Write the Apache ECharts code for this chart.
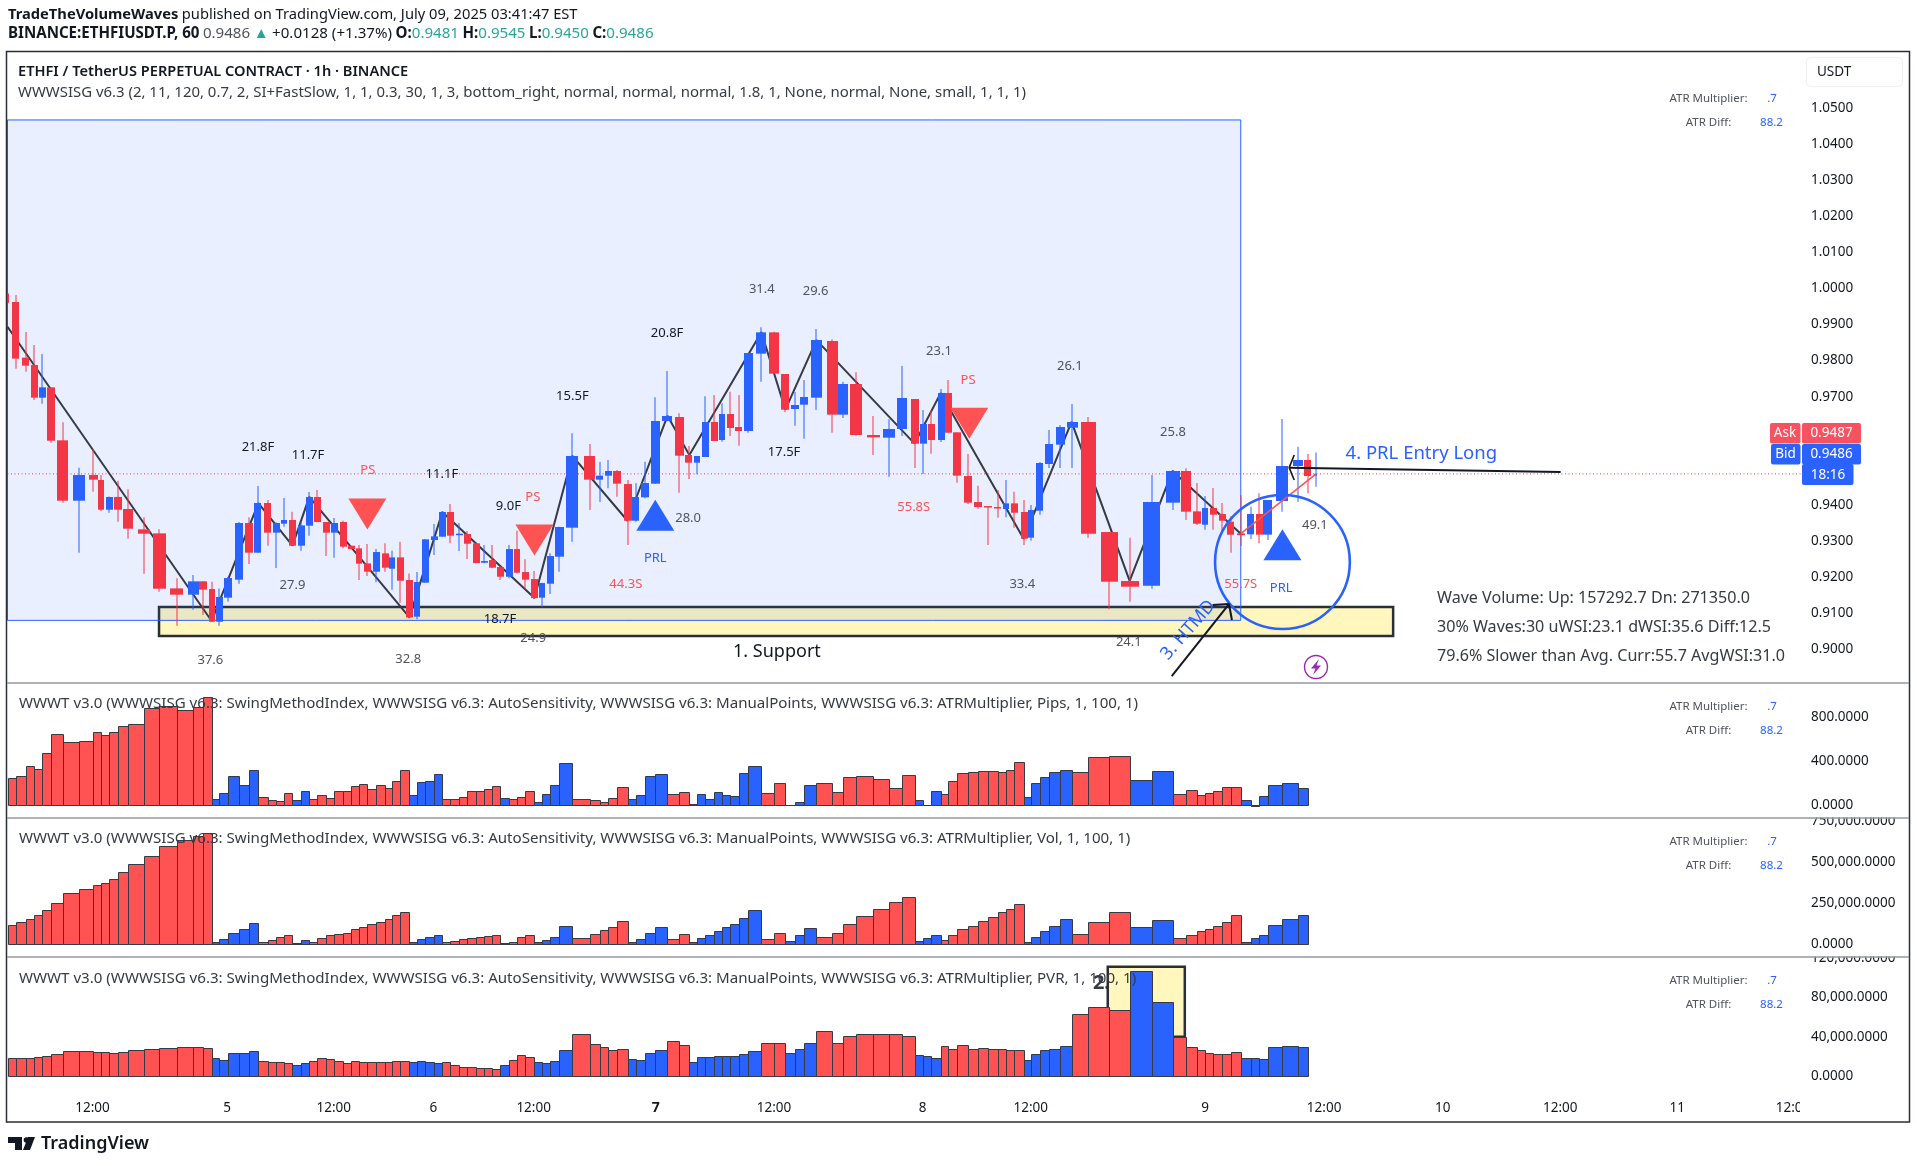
<!DOCTYPE html>
<html><head><meta charset="utf-8"><style>html,body{margin:0;background:#fff}#c{width:1917px;height:1166px}</style>
<script src="https://cdn.jsdelivr.net/npm/echarts@6/dist/echarts.min.js"></script></head>
<body><div id="c"></div><script>
const candleTime=[18,38,62,82,101,122,151,189,222,241,260,281,305,343,379,420,458,483,503,521,543,567,592,614,636,657,676,695,715,735,754,775,794,814,835,853,873,893,914,932,951,973,991,1011,1031,1051,1070,1091,1110,1130,1150,1170,1189,1210,1229,1248,1270,1288,1307,1328,1360,1401,1426,1445,1466,1491,1511,1533,1557,1586,1614,1638,1656,1676,1697,1716,1735,1757,1778,1809,1840,1866,1890,1911,1940,1976,2004,2035,2075,2112,2144,2173,2194,2213,2235,2253,2275,2301,2324,2348,2372,2391,2410,2432,2450,2470,2493,2519,2546,2584,2634,2684,2738,2786,2819,2845,2864,2883,2904,2924,2948,2973,2992,3013,3047,3083,3107,3127];
// open, close, low, high
const ohlc=[[.9984,.9961,.9959,.9988],[.99627,.98055,.97778,.99821],[.98083,.97861,.97694,.98795],[.97879,.96973,.96908,.98434],[.96973,.9726,.96807,.98184],[.9726,.9578,.95725,.9726],[.9579,.94116,.94061,.96289],[.94116,.94828,.92674,.95032],[.9483,.94699,.94366,.95549],[.9469,.93866,.9382,.9483],[.93866,.94218,.93783,.9423],[.9422,.93866,.93534,.94671],[.93885,.9334,.93062,.94431],[.93321,.93201,.92091,.93654],[.9321,.91675,.91592,.93321],[.91684,.91509,.90649,.91962],[.91509,.91879,.91093,.92054],[.9188,.91648,.90945,.9188],[.91666,.9076,.9076,.91869],[.9076,.91444,.90649,.91684],[.91426,.91971,.91315,.92008],[.91925,.93497,.91814,.93525],[.93497,.92674,.92359,.93654],[.92674,.94052,.92674,.94523],[.94052,.93229,.92868,.94135],[.93229,.93497,.92248,.93515],[.93478,.9358,.93395,.9419],[.9358,.92868,.92859,.93811],[.92868,.93432,.9273,.93534],[.93423,.94218,.93145,.94357],[.94218,.93525,.93515,.94412],[.93525,.93229,.92581,.93525],[.93229,.93497,.92535,.93635],[.93525,.9284,.92794,.93562],[.92868,.92775,.92775,.92868],[.92794,.92369,.91916,.92886],[.92378,.92147,.92027,.92914],[.92147,.92692,.91851,.92775],[.92655,.92258,.92147,.92933],[.9223,.92544,.91648,.9273],[.92544,.91897,.91287,.92979],[.91916,.9088,.90852,.921],[.90899,.9186,.90825,.92137],[.91842,.93044,.91842,.93053],[.93025,.93127,.92609,.93469],[.93118,.93802,.93118,.93811],[.93802,.93145,.92933,.94024],[.93164,.93201,.9272,.93488],[.93192,.92923,.92498,.93275],[.92933,.92387,.92378,.92933],[.92396,.92442,.92378,.92886],[.9247,.92258,.92239,.92886],[.92276,.92008,.91916,.92304],[.92008,.92775,.91962,.92886],[.92775,.92119,.921,.93284],[.92137,.91925,.91657,.92489],[.91943,.91416,.91389,.92165],[.91426,.91832,.91176,.91842],[.91814,.92581,.91527,.92655],[.92563,.93386,.92147,.93395],[.93367,.95355,.92979,.95984],[.95355,.94699,.93857,.95688],[.94699,.9481,.94079,.95189],[.9481,.94939,.94458,.95244],[.94939,.94588,.94227,.94967],[.94578,.93561,.92886,.94689],[.93561,.94218,.93534,.94597],[.94209,.94606,.94181,.95198],[.94588,.96326,.94578,.96982],[.96326,.96465,.96317,.97713],[.96437,.95364,.94338,.96539],[.95383,.9517,.94717,.95633],[.9517,.95355,.94847,.95355],[.95327,.96298,.95327,.9701],[.96298,.95771,.95771,.97047],[.95799,.9652,.95753,.96816],[.9652,.96132,.9591,.9714],[.9616,.96049,.95642,.97047],[.96049,.98212,.96002,.98212],[.98194,.98785,.97417,.98924],[.98785,.97639,.97639,.98804],[.9763,.9664,.96566,.9763],[.96659,.9677,.96196,.9713],[.96779,.96992,.95836,.97463],[.96973,.98573,.96631,.98878],[.98545,.96502,.96002,.98591],[.96502,.97352,.96409,.97417],[.97352,.95938,.95919,.97676],[.95938,.95873,.95383,.96465],[.95864,.96104,.94782,.96372],[.96104,.96964,.9591,.97852],[.96936,.95697,.95022,.96936],[.95697,.96243,.94856,.96631],[.96243,.95799,.9542,.96622],[.95799,.97103,.95743,.97214],[.97103,.96002,.96002,.97463],[.96012,.9481,.94615,.96012],[.948,.94061,.94024,.95411],[.94079,.9394,.93894,.94532],[.93968,.9395,.92886,.93968],[.9394,.93922,.93645,.94412],[.93885,.94042,.93654,.94689],[.94042,.93783,.93367,.94366],[.93802,.93062,.92886,.94135],[.9309,.93857,.93007,.93996],[.93839,.95161,.93728,.95189],[.95133,.95688,.95022,.96076],[.9567,.9616,.95022,.96215],[.96141,.96298,.95022,.96798],[.96298,.93201,.9309,.96437],[.93247,.91869,.91102,.93247],[.91888,.91731,.91315,.9309],[.91759,.94079,.91675,.94828],[.94061,.94939,.93857,.94967],[.94939,.93811,.9358,.95013],[.9382,.93478,.93441,.94606],[.9345,.93913,.93312,.94246],[.93913,.93728,.93312,.94467],[.93746,.93561,.93284,.94052],[.93534,.93173,.92674,.93691],[.9321,.9316,.9286,.9427],[.93183,.93747,.93053,.9395],[.93747,.93174,.92933,.9432],[.93174,.94135,.93026,.94135],[.94107,.95078,.93812,.96382],[.95078,.95245,.94089,.95615],[.95245,.948,.9432,.95411],[.9481,.9486,.945,.9545]];
const wavePhase='RRRRRRRRRRRRRRRRRRBBBBBRRRRBBRRRRRRRRRRRRBBBBRRRRRRRBRRRBBBBRRRRRBBBBRRBBBBBBBBRRBBBRRRRRRRBBBRRRRRRRRRBBBBBRRRBBRRRRRRRBBBBBB';
const pipsValues=[244,262,353,326,471,643,570,579,661,634,661,715,733,878,896,860,887,978,54,109,262,181,317,72,45,36,109,45,127,54,91,63,127,127,172,190,145,181,154,217,317,91,208,217,281,54,54,72,127,127,145,172,63,54,72,127,27,100,181,380,54,45,27,63,163,54,91,262,281,100,118,9,100,54,118,91,81,290,353,109,199,3,27,181,199,118,253,262,235,154,272,45,1,127,100,217,290,299,308,308,299,317,389,72,199,253,299,317,299,434,443,226,308,100,136,91,109,127,163,163,45,-9,81,181,199,154];
const volThousands=[116,134,152,176,207,249,310,334,359,371,395,438,486,535,596,632,657,677,12,30,67,91,128,12,24,43,55,6,24,12,36,55,61,67,91,103,122,134,152,176,195,12,30,43,55,12,18,30,36,43,49,55,6,12,43,55,12,24,43,109,36,61,85,103,140,12,30,67,103,30,61,12,36,55,79,103,122,158,207,30,67,18,55,97,43,67,122,170,213,255,286,18,36,55,24,55,91,109,140,164,195,213,243,12,43,79,109,152,61,134,195,103,146,36,55,79,91,109,134,176,12,36,55,116,152,176];
const pvrThousands=[18.2,18.2,18.2,19.2,20.3,22.3,25.3,25.3,24.3,24.3,23.3,24.3,26.3,27.3,28.4,29.4,29.4,28.4,18.2,16.2,23.3,23.3,25.3,15.2,14.2,14.2,13.2,11.1,13.2,15.2,18.2,17.2,15.2,13.2,15.2,14.2,14.2,14.2,14.2,15.2,15.2,14.2,15.2,14.2,13.2,14.2,11.1,9.1,9.1,8.1,8.1,7.1,11.1,16.2,21.3,19.2,14.2,13.2,15.2,26.3,42.5,32.4,29.4,26.3,27.3,17.2,16.2,23.3,26.3,35.4,31.4,14.2,19.2,19.2,20.3,20.3,20.3,22.3,25.3,33.4,33.4,23.3,27.3,33.4,45.6,33.4,40.5,42.5,42.5,42.5,40.5,21.3,20.3,18.2,30.4,27.3,31.4,27.3,28.4,27.3,27.3,26.3,26.3,16.2,22.3,26.3,27.3,30.4,62.8,69.9,66.8,106.3,74.9,39.5,29.4,26.3,23.3,22.3,22.3,24.3,18.2,18.2,17.2,29.4,30.4,29.4];
const wavePivots=[[18,.9894],[503,.9078],[614,.9405],[695,.9287],[735,.9422],[973,.9088],[1051,.938],[1270,.9142],[1360,.9536],[1491,.9356],[1586,.9647],[1638,.9538],[1809,.9879],[1866,.9664],[1940,.9857],[2173,.957],[2235,.971],[2432,.9306],[2546,.963],[2684,.9189],[2786,.9494],[2948,.932]];
const waveLive=[[2948,.932],[3127,.9486]];
const lastPrice=.9486;
const priceTicks=[.90,.91,.92,.93,.94,.97,.98,.99,1,1.01,1.02,1.03,1.04,1.05];
const pipsTicks=[0,400,800];
const volTicks=[0,250000,500000,750000];
const pvrTicks=[0,40000,80000,120000];
const timeTickPos=[220,540,793,1030,1268,1558,1839,2192,2449,2863,3146,3428,3707,3985,4260];
const timeTickText=['12:00','5','12:00','6','12:00','7','12:00','8','12:00','9','12:00','10','12:00','11','12:00'];
const blackNotes=[[613,.95596,'21.8F'],[732,.9538,'11.7F'],[1050,.94847,'11.1F'],[1208,.93968,'9.0F'],[1360,.97019,'15.5F'],[1188,.90825,'18.7F'],[1585,.98758,'20.8F'],[1863,.95457,'17.5F']];
const grayNotes=[[695,.91777,'27.9'],[500,.89696,'37.6'],[970,.89724,'32.8'],[1267,.90298,'24.9'],[1810,.99978,'31.4'],[1938,.99913,'29.6'],[2231,.98268,'23.1'],[2542,.97852,'26.1'],[2787,.96021,'25.8'],[1635,.93626,'28.0'],[2429,.91805,'33.4'],[2682,.90187,'24.1'],[3124,.93442,'49.1']];
const redNotes=[[874,.94967,'PS'],[1266,.94209,'PS'],[2300,.97463,'PS'],[1487,.91804,'44.3S'],[2171,.9394,'55.8S'],[2948,.91805,'55.7S']];
const blueNotes=[[1557,.92517,'PRL'],[3044,.91685,'PRL']];
const sellMarks=[[873,.9375],[1270,.93025],[2303,.96261]];
const buyMarks=[[1557,.93709],[3047,.92896]];
const supportZone=[378,.91166,3310,.90362];
const focusZone=[18,1.04675,2948,.90797];
const volumeZone=[2632,111000,2815,40000];
const prlCircle=[3047,.92415,67.4,67];
const htmdArrow=[[2784,.89253],[2920,.9125]];
const htmdHead=[[2881,.9122],[2920,.9125],[2927,.90806]];
const entryArrow=[[3708,.94912],[3063,.95032]];
const entryHead=[[3075,.95383],[3063,.95032],[3075,.9469]];

const F='"Noto Sans",sans-serif', X0=18, X1=4279;
const RED='#FF5252', CUP='#2962FF', CDN='#F23645', DARK='#363A45';
const grids=[[52,631],[683,135],[818,139],[957,135]].map(g=>({left:7.5,right:116,top:g[0],height:g[1]}));
const fmt=v=>v.toFixed(4).replace(/\B(?=(\d{3})+(?!\d))(?=.*\.)/g,',');
const xAxes=grids.map((g,i)=>({type:'value',gridIndex:i,min:X0,max:X1,splitLine:{show:false},axisLine:{show:false},axisTick:{show:false},
  axisLabel:i<3?{show:false}:{show:true,customValues:timeTickPos,margin:9,color:'#131722',hideOverlap:false,fontFamily:F,fontSize:13.5,
    formatter:v=>{const t=timeTickText[timeTickPos.indexOf(v)];return t==='7'?'{b|7}':t;},rich:{b:{fontWeight:'bold',fontFamily:F,fontSize:14,color:'#131722'}}}}));
const yOpt=(i,min,max,ticks)=>({type:'value',gridIndex:i,position:'right',min,max,splitLine:{show:false},axisLine:{show:false},axisTick:{show:false},
  axisLabel:{customValues:ticks,formatter:fmt,margin:10,padding:[4,0,0,0],color:'#131722',fontFamily:F,fontSize:13.5,hideOverlap:false,showMinLabel:true,showMaxLabel:true}});
const yAxes=[yOpt(0,.8906,1.0656,priceTicks),yOpt(1,-115,1107,pipsTicks),yOpt(2,-77000,768000,volTicks),yOpt(3,-15900,120800,pvrTicks)];

function candleSeries(){
  const data=ohlc.map((r,i)=>{const a=candleTime[Math.max(i-1,0)],b=candleTime[Math.min(i+1,candleTime.length-1)];
    return [candleTime[i],r[0],r[1],r[2],r[3],(b-a)/2*.8];});
  return {type:'custom',xAxisIndex:0,yAxisIndex:0,z:4,clip:true,data,encode:{x:0,y:[1,2,3,4]},silent:true,
    renderItem(p,api){
      const x=api.value(0),o=api.value(1),c=api.value(2),l=api.value(3),h=api.value(4),w=api.size([api.value(5),0])[0];
      const top=api.coord([x,Math.max(o,c)]),bot=api.coord([x,Math.min(o,c)]),lo=api.coord([x,l]),hi=api.coord([x,h]);
      const col=c>=o?CUP:CDN,cx=Math.round(top[0]);
      return {type:'group',children:[
        {type:'rect',shape:{x:cx-.5,y:hi[1],width:1,height:lo[1]-hi[1]},style:{fill:col}},
        {type:'rect',shape:{x:Math.round(cx-w/2),y:top[1],width:Math.max(2,Math.round(w)),height:Math.max(1.5,bot[1]-top[1])},style:{fill:col}}]};
    }};
}
function histSeries(idx,vals){
  const data=vals.map((v,i)=>[candleTime[i],candleTime[i+1],v]);
  return {type:'custom',xAxisIndex:idx,yAxisIndex:idx,z:4,clip:true,data,encode:{x:[0,1],y:2},silent:true,
    renderItem(p,api){
      const a=api.coord([api.value(0),api.value(2)]),b=api.coord([api.value(1),0]);
      const xa=Math.round(a[0])+.5,xb=Math.round(b[0])+.5;
      return {type:'rect',shape:{x:xa,y:Math.round(a[1])+.5,width:xb-xa,height:Math.round(b[1])-Math.round(a[1])},
        style:{fill:wavePhase[p.dataIndex]==='R'?RED:CUP,stroke:DARK,lineWidth:1}};
    }};
}
const boxSeries=(idx,box,style,z)=>({type:'custom',xAxisIndex:idx,yAxisIndex:idx,z,silent:true,clip:true,data:[box],encode:{x:[0,2],y:[1,3]},
  renderItem(p,api){const a=api.coord([api.value(0),api.value(1)]),b=api.coord([api.value(2),api.value(3)]);
    return {type:'rect',shape:{x:a[0],y:a[1],width:b[0]-a[0],height:b[1]-a[1]},style};}});
const pathSeries=(pts,color,width,z,type)=>({type:'line',xAxisIndex:0,yAxisIndex:0,z,silent:true,symbol:'none',animation:false,data:pts,lineStyle:{color,width,type:type||'solid'}});
const noteSeries=(notes,color,font)=>({type:'custom',xAxisIndex:0,yAxisIndex:0,z:8,silent:true,clip:false,data:notes.map(n=>[n[0],n[1]]),encode:{x:0,y:1},
  renderItem(p,api){const c=api.coord([api.value(0),api.value(1)]),n=notes[p.dataIndex];
    return {type:'text',x:c[0],y:c[1],rotation:n[3]||0,style:{text:n[2],fill:color,font:font||('13px '+F),align:'center',verticalAlign:'middle'}};}});
const markSeries=(pts,color,rot)=>({type:'scatter',xAxisIndex:0,yAxisIndex:0,z:6,silent:true,symbol:'triangle',symbolSize:[38,31],symbolRotate:rot,data:pts,itemStyle:{color,opacity:1}});

const series=[
  boxSeries(0,supportZone,{fill:'#FFF7BE',stroke:'#2A2E39',lineWidth:2.5},1),
  boxSeries(0,focusZone,{fill:'rgba(41,98,255,.1)',stroke:CUP,lineWidth:1},2),
  {type:'custom',xAxisIndex:3,yAxisIndex:3,z:0,silent:true,clip:false,data:[[2617,94500]],encode:{x:0,y:1},
    renderItem(p,api){const c=api.coord([api.value(0),api.value(1)]);
      return {type:'text',x:c[0],y:c[1],style:{text:'2.',fill:DARK,font:'bold 20px '+F,align:'center',verticalAlign:'middle'}};}},
  boxSeries(3,volumeZone,{fill:'#FFF7BE',stroke:'#2A2E39',lineWidth:2.5},1),
  pathSeries([[X0,lastPrice],[X1,lastPrice]],CDN,1,2,[1,2.5]),
  pathSeries(wavePivots,DARK,2,3),
  pathSeries(waveLive,RED,1.6,5),
  candleSeries(),
  markSeries(sellMarks,RED,180),markSeries(buyMarks,CUP,0),
  {type:'custom',xAxisIndex:0,yAxisIndex:0,z:7,silent:true,clip:false,data:[prlCircle],encode:{x:0,y:1},
    renderItem(p,api){const c=api.coord([api.value(0),api.value(1)]);
      return {type:'ellipse',shape:{cx:c[0],cy:c[1],rx:api.value(2),ry:api.value(3)},style:{fill:'none',stroke:CUP,lineWidth:2.6}};}},
  pathSeries(htmdArrow,'#131722',2,7),pathSeries(htmdHead,'#131722',2,7),
  pathSeries(entryArrow,'#131722',2,7),pathSeries(entryHead,'#131722',1.6,7),
  noteSeries(blackNotes,'#131722'),noteSeries(grayNotes,'#50535E'),noteSeries(redNotes,RED),noteSeries(blueNotes,CUP),
  noteSeries([[1846,.89928,'1. Support']],'#131722','18px '+F),
  noteSeries([[3377,.95411,'4. PRL Entry Long']],CUP,'18.5px '+F),
  noteSeries([[2823,.90529,'3. HTMD',.85]],CUP,'18px '+F),
  histSeries(1,pipsValues),
  histSeries(2,volThousands.map(v=>v*1000)),
  histSeries(3,pvrThousands.map(v=>v*1000))
];

const legendTail=k=>'WWWT v3.0 (WWWSISG v6.3: SwingMethodIndex, WWWSISG v6.3: AutoSensitivity, WWWSISG v6.3: ManualPoints, WWWSISG v6.3: ATRMultiplier, '+k+', 1, 100, 1)';
const T=(x,y,text,fill,font,align,extra)=>({type:'text',z:60,x,y,silent:true,style:Object.assign({text,fill:fill||'#131722',font:font||('13.5px '+F),align:align||'left',verticalAlign:'middle',textAlign:align||'left',textVerticalAlign:'middle'},extra||{})});
const R=(x,y,w,h,fill,r,z,stroke)=>({type:'rect',z:z||55,silent:true,shape:{x,y,width:w,height:h,r:r||0},style:{fill,stroke:stroke||null}});
const rich1={n:{font:'14.7px '+F,fill:'#131722'},b:{font:'bold 14.7px '+F,fill:'#131722'}};
const rich2={n:{font:'15.1px '+F,fill:'#131722'},b:{font:'bold 15.1px '+F,fill:'#131722'},t:{font:'15.1px '+F,fill:'#26A69A'},g:{font:'15.1px '+F,fill:'#50535E'}};
const gfx=[
  R(1800,1093,108,28,'#fff',0,40),R(1800,812.5,108,5,'#fff',0,40),R(1800,951.5,108,5,'#fff',0,40),
  {type:'rect',z:50,silent:true,shape:{x:6.5,y:51.5,width:1903,height:1070.5},style:{fill:'none',stroke:'#2A2E39',lineWidth:1.5}},
  ...[683,818,957].map(y=>({type:'line',z:50,silent:true,shape:{x1:7,y1:y,x2:1909,y2:y},style:{stroke:'#9598A1',lineWidth:1.3}})),
  T(8,15,'{b|TradeTheVolumeWaves} {n|published on TradingView.com, July 09, 2025 03:41:47 EST}',null,null,'left',{rich:rich1}),
  T(8,34,'{b|BINANCE:ETHFIUSDT.P, 60} {g|0.9486} {t|▲} {n|+0.0128 (+1.37%)} {b|O:}{t|0.9481} {b|H:}{t|0.9545} {b|L:}{t|0.9450} {b|C:}{t|0.9486}',null,null,'left',{rich:rich2}),
  T(18,72,'ETHFI / TetherUS PERPETUAL CONTRACT · 1h · BINANCE','#131722','600 14.6px '+F),
  T(18,92.5,'WWWSISG v6.3 (2, 11, 120, 0.7, 2, SI+FastSlow, 1, 1, 0.3, 30, 1, 3, bottom_right, normal, normal, normal, 1.8, 1, None, normal, None, small, 1, 1, 1)','#363A45','14.95px '+F),
  T(19,704,legendTail('Pips'),'#363A45','15.1px '+F),T(19,839,legendTail('Vol'),'#363A45','15.1px '+F),T(19,978.3,legendTail('PVR'),'#363A45','15.1px '+F),
  ...[[98.7,122.7],[706.7,730.7],[841.7,865.3],[980.7,1004.3]].flatMap(p=>[
    T(1708.5,p[0],'ATR Multiplier:','#50535E','11.5px '+F,'center'),T(1772,p[0],'.7',CUP,'11.5px '+F,'center'),
    T(1708.5,p[1],'ATR Diff:','#50535E','11.5px '+F,'center'),T(1771.5,p[1],'88.2',CUP,'11.5px '+F,'center')]),
  {type:'rect',z:55,silent:true,shape:{x:1806.5,y:57.5,width:96,height:29,r:4},style:{fill:'#fff',stroke:'#EEF0F3',lineWidth:1}},
  T(1817,72,'USDT'),
  R(1770,423,30.5,20.5,'#F7525F',2),R(1802,423,59,20.5,'#F7525F',2),
  R(1771,444,29.5,20.5,CUP,2),R(1802,444,59,20.5,CUP,2),R(1802,464,51.5,21,CUP,2),
  T(1785,433,'Ask','#fff',null,'center'),T(1831.5,433,'0.9487','#fff',null,'center'),
  T(1785.5,454,'Bid','#fff',null,'center'),T(1831.5,454,'0.9486','#fff',null,'center'),T(1828,475,'18:16','#fff',null,'center'),
  T(1437,598,'Wave Volume: Up: 157292.7 Dn: 271350.0','#363A45','16.1px '+F),
  T(1437,627,'30% Waves:30 uWSI:23.1 dWSI:35.6 Diff:12.5','#363A45','16.1px '+F),
  T(1437,656,'79.6% Slower than Avg. Curr:55.7 AvgWSI:31.0','#363A45','16.1px '+F),
  {type:'circle',z:60,silent:true,shape:{cx:1316,cy:667,r:11.5},style:{fill:'none',stroke:'#9C27B0',lineWidth:1.4}},
  {type:'polygon',z:60,silent:true,shape:{points:[[1319,659],[1311,668.5],[1315.5,668.5],[1313,675],[1321,665.5],[1316.5,665.5]]},style:{fill:'#9C27B0'}},
  {type:'polygon',z:60,silent:true,shape:{points:[[8,1137],[22,1137],[22,1150],[15,1150],[15,1143],[8,1143]]},style:{fill:'#131722'}},
  {type:'circle',z:60,silent:true,shape:{cx:26.5,cy:1140,r:2.8},style:{fill:'#131722'}},
  {type:'polygon',z:60,silent:true,shape:{points:[[28,1137],[35,1137],[30,1150],[23,1150]]},style:{fill:'#131722'}},
  T(41,1144,'TradingView','#131722','600 18px '+F)
];
const chart=echarts.init(document.getElementById('c'),null,{width:1917,height:1166,renderer:'canvas'});
chart.setOption({animation:false,backgroundColor:'#fff',grid:grids,xAxis:xAxes,yAxis:yAxes,series,graphic:{elements:gfx}});
</script></body></html>
